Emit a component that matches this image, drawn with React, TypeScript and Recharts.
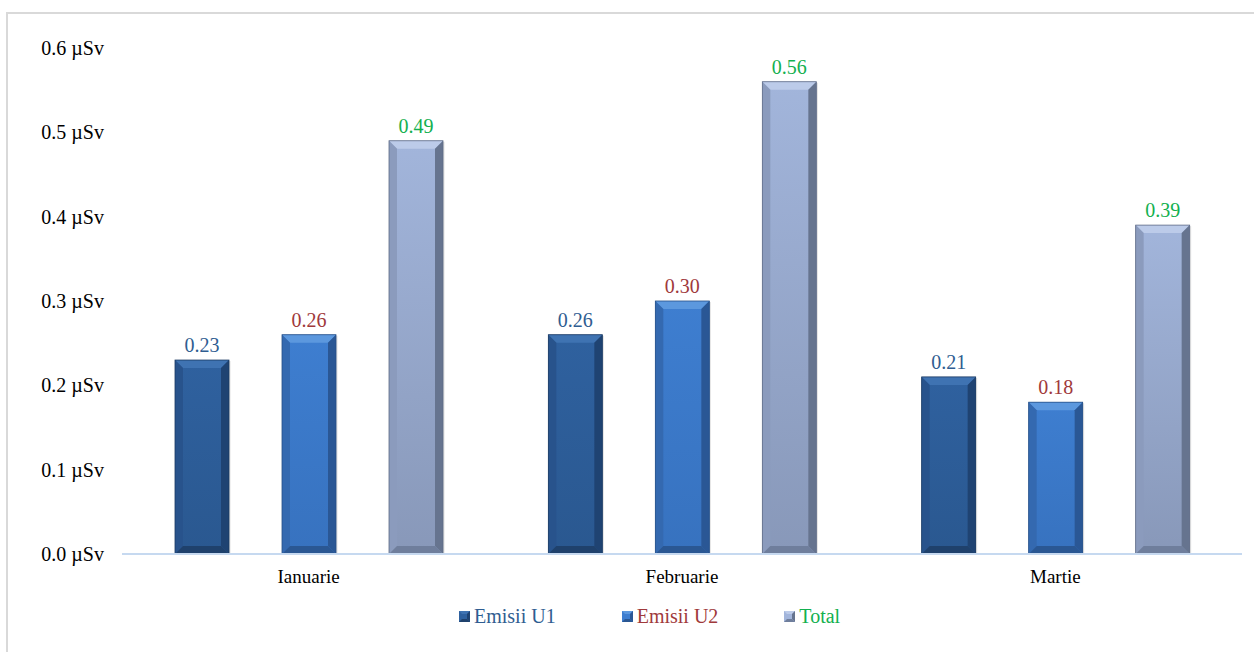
import React from 'react';
import { BarChart, Bar, XAxis, YAxis, LabelList, Legend } from 'recharts';

const categories = ['Ianuarie', 'Februarie', 'Martie'];
const emisiiU1 = [0.23, 0.26, 0.21];
const emisiiU2 = [0.26, 0.3, 0.18];
const total = [0.49, 0.56, 0.39];
const yTicks = [0, 0.1, 0.2, 0.3, 0.4, 0.5, 0.6];

const data = categories.map((c, i) => ({ name: c, u1: emisiiU1[i], u2: emisiiU2[i], total: total[i] }));

const FONT = '"Liberation Serif", "Times New Roman", serif';

type Pal = { id: string; top: string; faceTop: string; faceBot: string; side: string; sideR: string; bottom: string; edge: string };

const palettes: Record<string, Pal> = {
  u1: { id: 'u1', top: '#3f73b2', faceTop: '#2f619f', faceBot: '#2a5890', side: '#28538c', sideR: '#1f4372', bottom: '#1f416c', edge: '#1b3a63' },
  u2: { id: 'u2', top: '#5c98de', faceTop: '#3e7ed0', faceBot: '#3772bf', side: '#3469b0', sideR: '#2a5795', bottom: '#2a5793', edge: '#264f87' },
  total: { id: 'tot', top: '#bccbe9', faceTop: '#a2b5db', faceBot: '#8898b9', side: '#8b9bbd', sideR: '#66748f', bottom: '#6f7e9c', edge: '#5e6b86' },
};

const BevelBar = (pal: Pal) => (props: any) => {
  const { x, y, width: w, height: h } = props;
  if (!h || h <= 0) return null;
  const b = Math.min(8, w / 4, h / 2);
  return (
    <g>
      <rect x={x + 1.5} y={y + 1} width={w} height={h} fill="#000" opacity={0.12} />
      <rect x={x} y={y} width={w} height={h} fill={`url(#face-${pal.id})`} />
      <polygon points={`${x},${y} ${x + w},${y} ${x + w - b},${y + b} ${x + b},${y + b}`} fill={pal.top} />
      <polygon points={`${x},${y} ${x + b},${y + b} ${x + b},${y + h - b} ${x},${y + h}`} fill={pal.side} />
      <polygon points={`${x + w},${y} ${x + w},${y + h} ${x + w - b},${y + h - b} ${x + w - b},${y + b}`} fill={pal.sideR} />
      <polygon points={`${x},${y + h} ${x + b},${y + h - b} ${x + w - b},${y + h - b} ${x + w},${y + h}`} fill={pal.bottom} />
      <rect x={x} y={y} width={w} height={h} fill="none" stroke={pal.edge} strokeWidth={0.8} />
    </g>
  );
};

const legendItems = [
  { label: 'Emisii U1', color: '#2f5d91', pal: palettes.u1 },
  { label: 'Emisii U2', color: '#a0393b', pal: palettes.u2 },
  { label: 'Total', color: '#13b04f', pal: palettes.total },
];

const LegendContent = () => (
  <div style={{ display: 'flex', justifyContent: 'flex-start', gap: 66, fontFamily: FONT, fontSize: 20, lineHeight: '24px', paddingLeft: 437, paddingTop: 16 }}>
    {legendItems.map((it) => (
      <div key={it.label} style={{ display: 'flex', alignItems: 'center' }}>
        <svg width={11} height={11} style={{ marginRight: 4 }}>
          <rect x={0} y={0} width={11} height={11} fill={it.pal.faceTop} />
          <polygon points="0,0 11,0 8,3 3,3" fill={it.pal.top} />
          <polygon points="11,0 11,11 8,8 8,3" fill={it.pal.sideR} />
          <polygon points="0,11 3,8 8,8 11,11" fill={it.pal.bottom} />
        </svg>
        <span style={{ color: it.color }}>{it.label}</span>
      </div>
    ))}
  </div>
);

const Grad = ({ pal }: { pal: Pal }) => (
  <linearGradient id={`face-${pal.id}`} x1="0" y1="0" x2="0" y2="1">
    <stop offset="0%" stopColor={pal.faceTop} />
    <stop offset="100%" stopColor={pal.faceBot} />
  </linearGradient>
);

export default function App() {
  return (
    <div style={{ position: 'absolute', left: 0, top: 0, width: 1254, height: 652, background: '#fff', overflow: 'hidden' }}>
      <div style={{ position: 'absolute', left: 6, top: 12, width: 1260, height: 660, borderTop: '2px solid #d9d9d9', borderLeft: '2px solid #d9d9d9' }} />
      <div style={{ position: 'absolute', left: 0, top: 0 }}>
        <BarChart width={1254} height={652} data={data} margin={{ top: 48, right: 12, bottom: 14, left: 22 }} barGap={53} barCategoryGap={53}>
          <defs>
            <Grad pal={palettes.u1} />
            <Grad pal={palettes.u2} />
            <Grad pal={palettes.total} />
          </defs>
          <XAxis dataKey="name" height={34} tickLine={false} axisLine={{ stroke: '#c6d9f0', strokeWidth: 2 }} tick={{ fill: '#000', fontSize: 19, fontFamily: FONT }} tickMargin={10} />
          <YAxis width={100} domain={[0, 0.6]} ticks={yTicks} tickLine={false} axisLine={false} tickSize={0} tickMargin={18}
            tickFormatter={(v: number) => `${v.toFixed(1)} µSv`} tick={{ fill: '#000', fontSize: 20, fontFamily: FONT }} interval={0} />
          <Legend verticalAlign="bottom" height={50} content={<LegendContent />} />
          <Bar dataKey="u1" name="Emisii U1" isAnimationActive={false} shape={BevelBar(palettes.u1)}>
            <LabelList dataKey="u1" position="top" offset={8} formatter={(v: number) => v.toFixed(2)} style={{ fill: '#2f5d91', fontSize: 20, fontFamily: FONT }} />
          </Bar>
          <Bar dataKey="u2" name="Emisii U2" isAnimationActive={false} shape={BevelBar(palettes.u2)}>
            <LabelList dataKey="u2" position="top" offset={8} formatter={(v: number) => v.toFixed(2)} style={{ fill: '#a0393b', fontSize: 20, fontFamily: FONT }} />
          </Bar>
          <Bar dataKey="total" name="Total" isAnimationActive={false} shape={BevelBar(palettes.total)}>
            <LabelList dataKey="total" position="top" offset={8} formatter={(v: number) => v.toFixed(2)} style={{ fill: '#13b04f', fontSize: 20, fontFamily: FONT }} />
          </Bar>
        </BarChart>
      </div>
    </div>
  );
}
